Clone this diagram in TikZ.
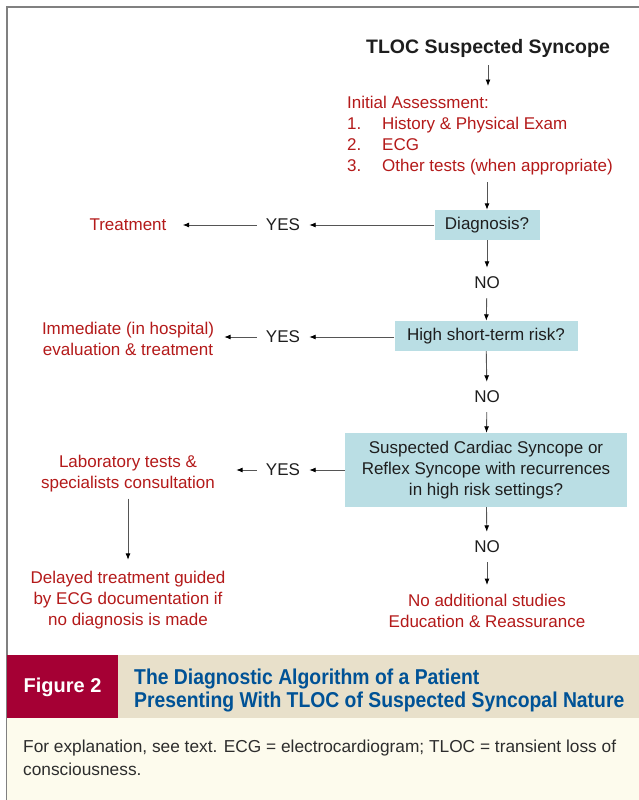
\documentclass[tikz,border=0pt]{standalone}
\usepackage{fontspec}
\setmainfont{Liberation Sans}
\newfontfamily\capfont[FakeStretch=0.9]{Liberation Sans}
\usetikzlibrary{arrows.meta}
\definecolor{darkred}{RGB}{180,26,26}
\definecolor{boxblue}{RGB}{186,222,228}
\definecolor{figred}{RGB}{165,0,52}
\definecolor{bandtan}{RGB}{232,224,202}
\definecolor{capcream}{RGB}{253,251,237}
\definecolor{capblue}{RGB}{0,82,150}
\definecolor{captext}{RGB}{45,45,45}
\definecolor{framegray}{RGB}{128,128,128}
\definecolor{linegray}{RGB}{85,85,85}
\definecolor{boxtext}{RGB}{30,30,30}
\tikzset{
  txt/.style={font=\fontsize{17}{21}\selectfont, inner sep=0pt, align=center, text=boxtext},
  redtxt/.style={txt, text=darkred},
  qbox/.style={txt, fill=boxblue, minimum height=30pt},
  yesno/.style={txt, inner sep=9pt},
  arr/.style={draw=linegray, line width=0.9pt, -{Latex[length=6.5pt,width=5pt,color=black]}},
}
\begin{document}
\begin{tikzpicture}[x=1pt,y=-1pt]
  \useasboundingbox (0,0) rectangle (639,800);
  \fill[white] (0,0) rectangle (639,800);
  \draw[framegray, line width=2pt] (639,7) -- (7,7) -- (7,800);
  \fill[capcream] (7,718) rectangle (639,800);
  \fill[bandtan] (118,655) rectangle (639,718);
  \fill[figred] (7,655) rectangle (118,718);

  \node[txt, font=\bfseries\fontsize{19.5}{23}\selectfont] (title) at (488,48) {TLOC Suspected Syncope};
  \node[redtxt, align=left, anchor=north west] (init) at (347,96)
    {Initial Assessment:\\
     \makebox[35pt][l]{1.}History \& Physical Exam\\
     \makebox[35pt][l]{2.}ECG\\
     \makebox[35pt][l]{3.}Other tests (when appropriate)};
  \node[qbox, minimum width=105pt] (diag) at (487,225) {Diagnosis?};
  \node[yesno] (no1) at (487,283) {NO};
  \node[qbox, minimum width=183pt] (risk) at (486,336) {High short-term risk?};
  \node[yesno] (no2) at (487,397) {NO};
  \node[qbox, minimum width=282pt, minimum height=74pt] (card) at (486,470)
    {Suspected Cardiac Syncope or\\Reflex Syncope with recurrences\\in high risk settings?};
  \node[yesno] (no3) at (487,547) {NO};
  \node[redtxt] (noadd) at (487,611) {No additional studies\\Education \& Reassurance};

  \node[yesno] (yes1) at (283,225) {YES};
  \node[yesno] (yes2) at (283,337) {YES};
  \node[yesno] (yes3) at (283,470) {YES};
  \node[redtxt] (treat) at (128,225) {Treatment};
  \node[redtxt] (imm) at (128,339) {Immediate (in hospital)\\evaluation \& treatment};
  \node[redtxt] (lab) at (128,474) {Laboratory tests \&\\specialists consultation};
  \node[redtxt] (delay) at (128,600) {Delayed treatment guided\\by ECG documentation if\\no diagnosis is made};

  \draw[arr, shorten <=8pt, shorten >=10pt] (title.south) -- (title.south |- init.north);
  \draw[arr, shorten <=7pt] (init.south -| diag.north) -- (diag.north);
  \draw[arr] (diag) -- (no1);
  \draw[arr] (no1) -- (risk);
  \draw[arr] (risk) -- (no2);
  \draw[arr] (no2) -- (card);
  \draw[arr] (card) -- (no3);
  \draw[arr, shorten >=9pt] (no3) -- (noadd);

  \draw[arr] (diag) -- (yes1);
  \draw[arr, shorten >=16pt] (yes1) -- (treat);
  \draw[arr] (risk.west |- yes2) -- (yes2);
  \draw[arr, shorten >=10pt] (yes2.west) -- (yes2.west -| imm.east);
  \draw[arr] (card) -- (yes3);
  \draw[arr, shorten >=21pt] (yes3.west) -- (yes3.west -| lab.east);
  \draw[arr, shorten <=6pt, shorten >=11pt] (lab.south) -- (lab.south |- delay.north);

  \node[font=\bfseries\fontsize{20}{24}\selectfont, text=white, inner sep=0pt] (fig) at (62.5,687) {Figure 2};
  \node[font=\capfont\bfseries\fontsize{21.5}{23}\selectfont, text=capblue, align=left, anchor=west, inner sep=0pt] (captitle) at (134,690)
    {The Diagnostic Algorithm of a Patient\\Presenting With TLOC of Suspected Syncopal Nature};
  \node[font=\fontsize{17.3}{23}\selectfont, text=captext, align=left, anchor=north west, inner sep=0pt] (capnote) at (23,740)
    {For explanation, see text. ECG = electrocardiogram; TLOC = transient loss of\\consciousness.};
\end{tikzpicture}
\end{document}
